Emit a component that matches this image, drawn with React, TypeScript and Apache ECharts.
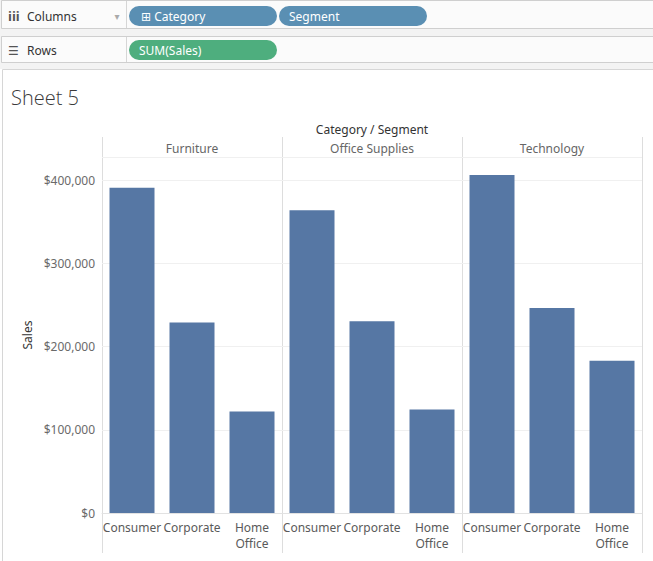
import React, { useEffect, useRef } from 'react';
import * as echarts from 'echarts';

const categories = ['Furniture', 'Office Supplies', 'Technology'];
const segments = ['Consumer', 'Corporate', 'Home Office'];
const furnitureSales = [391049, 229020, 121930];
const officeSuppliesSales = [363952, 230676, 124418];
const technologySales = [406312, 246450, 183157];
const yTickStep = 100000;
const yMax = 428000;

const salesByCategory = [furnitureSales, officeSuppliesSales, technologySales];

const FONT = '"Noto Sans", "DejaVu Sans", sans-serif';
const PLOT_LEFT = 102;
const PANEL_W = 180;
const PLOT_TOP = 157;
const PLOT_BOTTOM = 513;
const HEADER_TOP = 137;
const LINES_BOTTOM = 553;
const BAR_COLOR = '#5677a4';
const LINE_COLOR = '#dddddd';

function txt(text: string, x: number, y: number, size: number, fill: string, align = 'left', extra: any = {}) {
  const { weight, family, ...rest } = extra;
  return {
    type: 'text',
    x,
    y,
    silent: true,
    ...rest,
    style: {
      text,
      fill,
      font: `${weight || 'normal'} ${size}px ${family || FONT}`,
      textAlign: align,
      align,
      textVerticalAlign: 'middle',
      verticalAlign: 'middle',
    },
  };
}

function line(x1: number, y1: number, x2: number, y2: number, stroke: string, w = 1) {
  return { type: 'line', silent: true, shape: { x1, y1, x2, y2 }, style: { stroke, lineWidth: w } };
}

export default function App() {
  const ref = useRef<HTMLDivElement>(null);

  useEffect(() => {
    if (!ref.current) return;
    const chart = echarts.init(ref.current, undefined, { renderer: 'svg' });

    const grids = categories.map((_, i) => ({
      left: PLOT_LEFT + PANEL_W * i,
      top: PLOT_TOP,
      width: PANEL_W,
      height: PLOT_BOTTOM - PLOT_TOP,
    }));

    const xAxes = categories.map((_, i) => ({
      type: 'category',
      gridIndex: i,
      data: segments.map((s) => s.replace(' ', '\n')),
      axisTick: { show: false },
      axisLine: { show: true, lineStyle: { color: '#e2e2e2' } },
      axisLabel: {
        interval: 0,
        margin: 6,
        fontSize: 12,
        lineHeight: 16,
        color: '#5a5a5a',
        fontFamily: FONT,
      },
    }));

    const yAxes = categories.map((_, i) => ({
      type: 'value',
      gridIndex: i,
      min: 0,
      max: yMax,
      interval: yTickStep,
      axisLine: { show: false },
      axisTick: { show: false },
      splitLine: { show: true, lineStyle: { color: '#f0f0f0' } },
      axisLabel: {
        show: i === 0,
        margin: 7,
        fontSize: 12,
        color: '#6a6a6a',
        fontFamily: FONT,
        formatter: (v: number) => (v % yTickStep === 0 ? '$' + v.toLocaleString('en-US') : ''),
      },
    }));

    const series = categories.map((c, i) => ({
      type: 'bar',
      name: c,
      xAxisIndex: i,
      yAxisIndex: i,
      data: salesByCategory[i],
      barWidth: 45,
      itemStyle: { color: BAR_COLOR },
    }));

    const graphics: any[] = [];
    // toolbar background
    graphics.push({ type: 'rect', silent: true, shape: { x: 0, y: 0, width: 653, height: 69 }, style: { fill: '#f3f3f3' } });
    graphics.push({ type: 'rect', silent: true, shape: { x: 1.5, y: 0.5, width: 652, height: 28 }, style: { fill: '#fbfbfb', stroke: '#cfcfcf', lineWidth: 1 } });
    graphics.push({ type: 'rect', silent: true, shape: { x: 1.5, y: 36.5, width: 652, height: 26 }, style: { fill: '#fbfbfb', stroke: '#cfcfcf', lineWidth: 1 } });
    graphics.push(line(126.5, 1, 126.5, 28, '#d6d6d6'));
    graphics.push(line(126.5, 37, 126.5, 62, '#d6d6d6'));
    graphics.push(txt('iii', 8, 16, 13, '#555555', 'left', { weight: 'bold' }));
    graphics.push(txt('Columns', 27, 16, 12, '#333333'));
    graphics.push(txt('▾', 117, 16, 10, '#aaaaaa', 'center'));
    graphics.push(txt('☰', 8, 50, 12, '#555555'));
    graphics.push(txt('Rows', 27, 50, 12, '#333333'));
    // pills
    graphics.push({ type: 'rect', silent: true, shape: { x: 129, y: 6, width: 148, height: 20, r: 10 }, style: { fill: '#5a8fb3' } });
    graphics.push({ type: 'rect', silent: true, shape: { x: 279, y: 6, width: 148, height: 20, r: 10 }, style: { fill: '#5a8fb3' } });
    graphics.push({ type: 'rect', silent: true, shape: { x: 129, y: 40, width: 148, height: 20, r: 10 }, style: { fill: '#4eae7e' } });
    graphics.push(txt('⊞ Category', 141, 16, 12, '#ffffff'));
    graphics.push(txt('Segment', 289, 16, 12, '#ffffff'));
    graphics.push(txt('SUM(Sales)', 139, 50, 12, '#ffffff'));
    // sheet area
    graphics.push({ type: 'rect', silent: true, shape: { x: 2.5, y: 69.5, width: 660, height: 500 }, style: { fill: '#ffffff', stroke: '#d6d6d6', lineWidth: 1 } });
    graphics.push(txt('Sheet 5', 11, 97, 20, '#3a3a3a', 'left', { weight: 300, family: '"Open Sans", "Noto Sans", sans-serif' }));
    graphics.push(txt('Category / Segment', PLOT_LEFT + (PANEL_W * categories.length) / 2, 129, 12, '#333333', 'center'));
    categories.forEach((c, i) => {
      graphics.push(txt(c, PLOT_LEFT + PANEL_W * i + PANEL_W / 2, 148, 12, '#666666', 'center'));
    });
    for (let i = 0; i <= categories.length; i++) {
      const x = PLOT_LEFT + PANEL_W * i + 0.5;
      graphics.push(line(x, HEADER_TOP, x, LINES_BOTTOM, LINE_COLOR));
    }
    graphics.push(line(PLOT_LEFT, PLOT_TOP + 0.5, PLOT_LEFT + PANEL_W * categories.length, PLOT_TOP + 0.5, LINE_COLOR));
    graphics.push(txt('Sales', 27, (PLOT_TOP + PLOT_BOTTOM) / 2, 12, '#333333', 'center', { rotation: Math.PI / 2 }));

    chart.setOption({
      animation: false,
      backgroundColor: '#ffffff',
      grid: grids,
      xAxis: xAxes,
      yAxis: yAxes,
      series,
      graphic: { elements: graphics.map((g) => ({ ...g, z: -1 })) },
    });

    return () => chart.dispose();
  }, []);

  return <div ref={ref} style={{ position: 'fixed', left: 0, top: 0, width: 653, height: 561 }} />;
}
